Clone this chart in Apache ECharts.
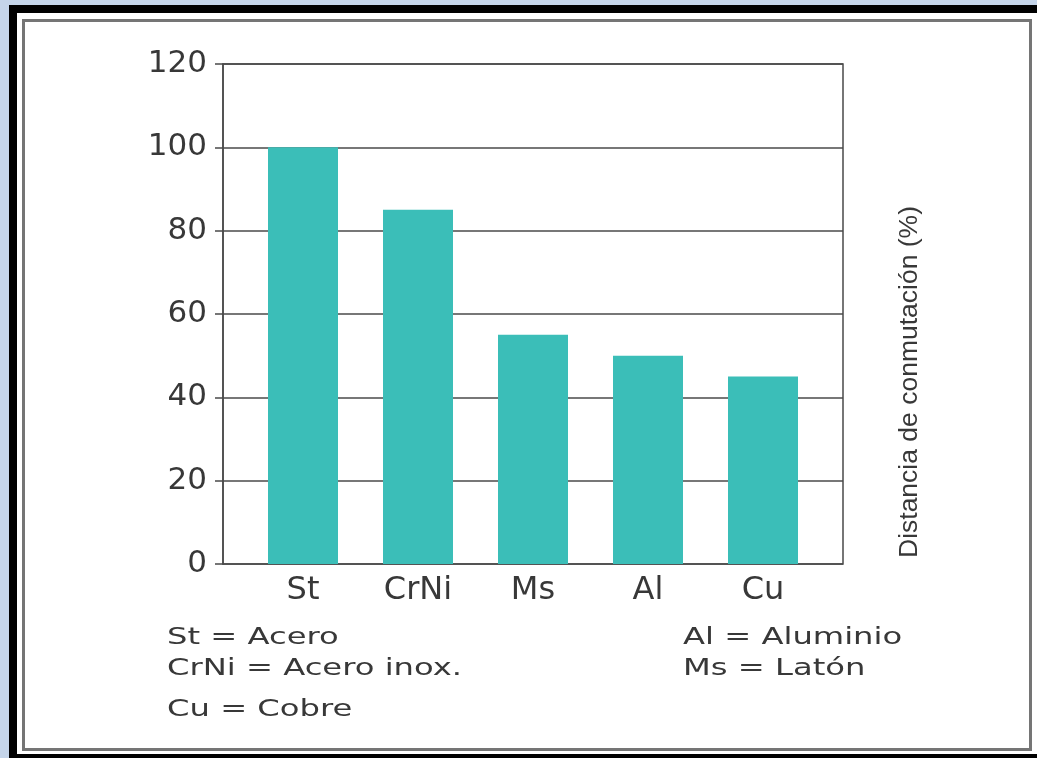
<!DOCTYPE html>
<html>
<head>
<meta charset="utf-8">
<title>Distancia de conmutación</title>
<script src="https://cdn.jsdelivr.net/npm/echarts@6/dist/echarts.min.js"></script>
<style>
html,body{margin:0;padding:0;width:1037px;height:758px;overflow:hidden;background:#c5d5ea;}
#frame{position:absolute;left:9px;top:5px;right:0;bottom:0;background:#000;}
#panel{position:absolute;left:17px;top:13px;right:0;bottom:4px;background:#fff;}
#box{position:absolute;left:22px;top:19px;width:1004px;height:726px;border:3px solid #757575;}
#chart{position:absolute;left:0;top:0;width:1037px;height:758px;}
</style>
</head>
<body>
<div id="frame"></div>
<div id="panel"></div>
<div id="box"></div>
<div id="chart"></div>
<script>
// datos del gráfico
var categorias = ['St', 'CrNi', 'Ms', 'Al', 'Cu'];
var distancia = [100, 85, 55, 50, 45];
var yMin = 0, yMax = 120, yPaso = 20;
var tituloEje = 'Distancia de conmutación (%)';
var notasIzq = ['St = Acero', 'CrNi = Acero inox.', 'Cu = Cobre'];
var notasDer = ['Al = Aluminio', 'Ms = Latón'];

var gris = '#4a4a4a';
var texto = '#383838';

var myChart = echarts.init(document.getElementById('chart'));

// textos de la leyenda de abajo
var notaY = [638, 669, 710];
var graficos = [{
    type: 'text',
    x: 910,
    y: 382,
    rotation: Math.PI / 2,
    style: {
        text: tituloEje,
        fill: texto,
        fontFamily: 'Liberation Sans',
        fontSize: 26.5,
        align: 'center',
        verticalAlign: 'middle'
    }
}];
notasIzq.forEach(function (t, i) {
    graficos.push({
        type: 'text', x: 167, y: notaY[i], scaleX: 1.4,
        style: {text: t, fill: texto, fontFamily: 'DejaVu Sans', fontSize: 23, align: 'left', verticalAlign: 'middle'}
    });
});
notasDer.forEach(function (t, i) {
    graficos.push({
        type: 'text', x: 683, y: notaY[i], scaleX: 1.4,
        style: {text: t, fill: texto, fontFamily: 'DejaVu Sans', fontSize: 23, align: 'left', verticalAlign: 'middle'}
    });
});

var option = {
    animation: false,
    // grid 0: marco y líneas, grid 1: barras
    grid: [
        {left: 223, top: 64, width: 620, height: 500, show: true, borderColor: gris, borderWidth: 1.5},
        {left: 245.5, top: 64, width: 575, height: 500}
    ],
    xAxis: [
        {
            type: 'value', gridIndex: 0, min: 0, max: 1,
            axisLine: {show: false}, axisTick: {show: false},
            axisLabel: {show: false}, splitLine: {show: false}
        },
        {
            type: 'category', gridIndex: 1, data: categorias,
            axisLine: {show: false}, axisTick: {show: false},
            axisLabel: {margin: 11, color: texto, fontFamily: 'DejaVu Sans', fontSize: 32}
        }
    ],
    yAxis: [
        {
            type: 'value', gridIndex: 0, min: yMin, max: yMax, interval: yPaso,
            axisLine: {show: true, lineStyle: {color: gris, width: 1.5}},
            axisTick: {show: true, length: 8, lineStyle: {color: gris, width: 1.5}},
            axisLabel: {margin: 16, color: texto, fontFamily: 'DejaVu Sans', fontSize: 31},
            splitLine: {show: true, lineStyle: {color: gris, width: 1.5}}
        },
        {
            type: 'value', gridIndex: 1, min: yMin, max: yMax, show: false,
            splitLine: {show: false}
        }
    ],
    series: [{
        type: 'bar',
        xAxisIndex: 1,
        yAxisIndex: 1,
        barWidth: 70,
        data: distancia,
        itemStyle: {color: '#3bbeb8'}
    }],
    graphic: graficos
};
myChart.setOption(option);
</script>
</body>
</html>
